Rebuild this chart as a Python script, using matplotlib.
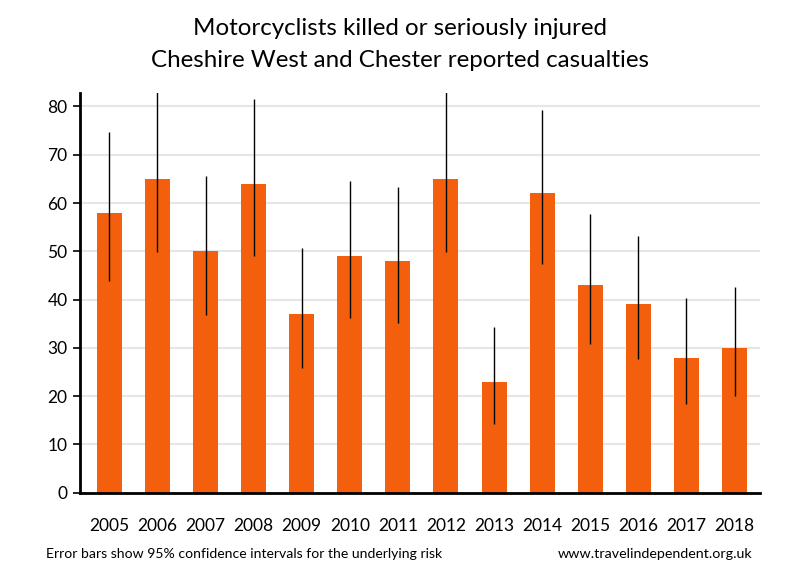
import matplotlib
matplotlib.use("Agg")
import matplotlib.pyplot as plt
import numpy as np

years = ["2005", "2006", "2007", "2008", "2009", "2010", "2011",
         "2012", "2013", "2014", "2015", "2016", "2017", "2018"]
casualties = [58, 65, 50, 64, 37, 49, 48, 65, 23, 62, 43, 39, 28, 30]
ci_low = [43.9, 49.9, 36.8, 49.1, 25.9, 36.1, 35.2, 49.9, 14.3, 47.3, 30.9, 27.6, 18.4, 20.1]
ci_high = [74.7, 84.0, 65.6, 81.6, 50.7, 64.6, 63.4, 84.0, 34.3, 79.3, 57.8, 53.2, 40.3, 42.6]

plt.rcParams['font.family'] = ['Lato', 'DejaVu Sans']

fig = plt.figure(figsize=(8, 5.8), dpi=100)
ax = fig.add_axes([0.1, 0.1505, 0.85, 0.6892])

x = np.arange(len(years))
bar_color = "#F45F0E"
ax.bar(x, casualties, width=0.52, color=bar_color, zorder=2)
ax.vlines(x, ci_low, ci_high, color="black", linewidth=1.0, zorder=3)

ax.set_xlim(-0.61, 13.53)
ax.set_ylim(0, 82.8)
ax.set_yticks(np.arange(0, 81, 10))
ax.yaxis.grid(True, color="#e6e6e6", linewidth=1.5, zorder=0)
ax.set_axisbelow(True)

ax.set_xticks(x)
ax.set_xticklabels(years, fontsize=12.5)
ax.tick_params(axis='x', length=0, pad=18)
ax.tick_params(axis='y', labelsize=12.5, length=5, width=1.2, direction='out', pad=4)

for s in ["top", "right"]:
    ax.spines[s].set_visible(False)
ax.spines["left"].set_linewidth(2)
ax.spines["bottom"].set_linewidth(2)

fig.text(0.5, 0.951, "Motorcyclists killed or seriously injured",
         ha="center", va="center", fontsize=17.4)
fig.text(0.5, 0.896, "Cheshire West and Chester reported casualties",
         ha="center", va="center", fontsize=17.4)

fig.text(0.058, 0.045, "Error bars show 95% confidence intervals for the underlying risk",
         ha="left", va="center", fontsize=10.1)
fig.text(0.94, 0.045, "www.travelindependent.org.uk",
         ha="right", va="center", fontsize=10.3)

fig.savefig("out.png", dpi=100)
